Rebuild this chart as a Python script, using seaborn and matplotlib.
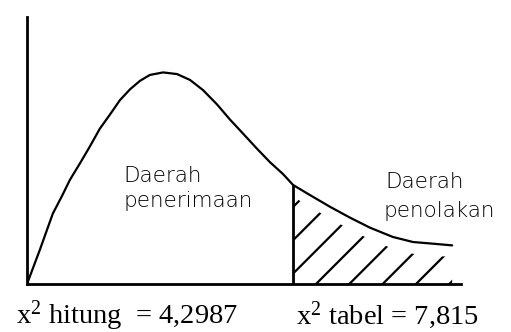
import numpy as np
import pandas as pd
import seaborn as sns
import matplotlib.pyplot as plt

# curve (x in chi-square units, y in density-like units)
curve_x = [0.0, 0.38, 0.76, 1.03, 1.26, 1.56, 1.85, 2.14, 2.44, 2.73, 3.03,
           3.32, 3.61, 4.00, 4.41, 4.79, 5.17, 5.58, 5.96, 6.35, 6.76, 7.14,
           7.52, 7.815, 8.31, 8.90, 9.49, 10.08, 10.75, 11.34, 11.93, 12.49]
curve_y = [0.0, 0.041, 0.084, 0.105, 0.124, 0.144, 0.164, 0.185, 0.202, 0.219,
           0.232, 0.242, 0.249, 0.252, 0.250, 0.243, 0.231, 0.214, 0.196, 0.179,
           0.161, 0.145, 0.131, 0.118, 0.106, 0.092, 0.079, 0.067, 0.056, 0.050,
           0.048, 0.046]

chi_hitung = "4,2987"
chi_tabel = 7.815
chi_tabel_label = "7,815"

accept_label = ["Daerah", "penerimaan"]
reject_label = ["Daerah", "penolakan"]

df = pd.DataFrame({"x": curve_x, "y": curve_y})

sns.set_style("white")
plt.rcParams["font.family"] = ["DejaVu Sans"]
plt.rcParams["hatch.linewidth"] = 1.6
plt.rcParams["mathtext.fontset"] = "custom"
plt.rcParams["mathtext.rm"] = "Liberation Serif"
plt.rcParams["mathtext.it"] = "Liberation Serif"

W, H = 511, 332
fig = plt.figure(figsize=(W / 100, H / 100), dpi=100)
fig.patch.set_facecolor("white")

# axes placed so that the corner sits at px (27, 284) and ends at (461, 17)
ax = fig.add_axes([27 / W, (H - 284) / H, (461 - 27) / W, (284 - 17) / H])
ax.set_xlim(0, 12.75)
ax.set_ylim(0, 0.318)

sns.lineplot(data=df, x="x", y="y", color="black", linewidth=1.6,
             estimator=None, sort=False, ax=ax)

# rejection region: vertical line at the critical value plus hatching
tail = df[df["x"] >= chi_tabel]
crit_y = df.loc[df["x"] == chi_tabel, "y"].iloc[0]
ax.vlines(chi_tabel, 0, crit_y, color="black", linewidth=2.0)
ax.fill_between(tail["x"], 0, tail["y"] - 0.014, facecolor="none",
                edgecolor="black", hatch="/", linewidth=0)

ax.set_xticks([])
ax.set_yticks([])
ax.set_xlabel("")
ax.set_ylabel("")
for side in ["top", "right"]:
    ax.spines[side].set_visible(False)
for side in ["left", "bottom"]:
    ax.spines[side].set_linewidth(2.0)
    ax.spines[side].set_color("black")


def px(x, y):
    return x / W, 1 - y / H


lab_kw = dict(fontsize=15.5, color="black", va="baseline", ha="left",
              fontweight="light")
fig.text(*px(123, 182), accept_label[0], **lab_kw)
fig.text(*px(123, 207), accept_label[1], **lab_kw)
fig.text(*px(385, 188), reject_label[0], **lab_kw)
fig.text(*px(383, 217), reject_label[1], **lab_kw)

bot_kw = dict(fontsize=20.5, color="black", va="baseline", ha="left",
              family=["Liberation Serif", "DejaVu Serif"])
fig.text(*px(16, 324), "x$^{\\mathrm{2}}$ hitung  = " + chi_hitung, **bot_kw)
fig.text(*px(296, 324), "x$^{\\mathrm{2}}$ tabel = " + chi_tabel_label, **bot_kw)

fig.savefig("out.png", dpi=100, facecolor="white")
